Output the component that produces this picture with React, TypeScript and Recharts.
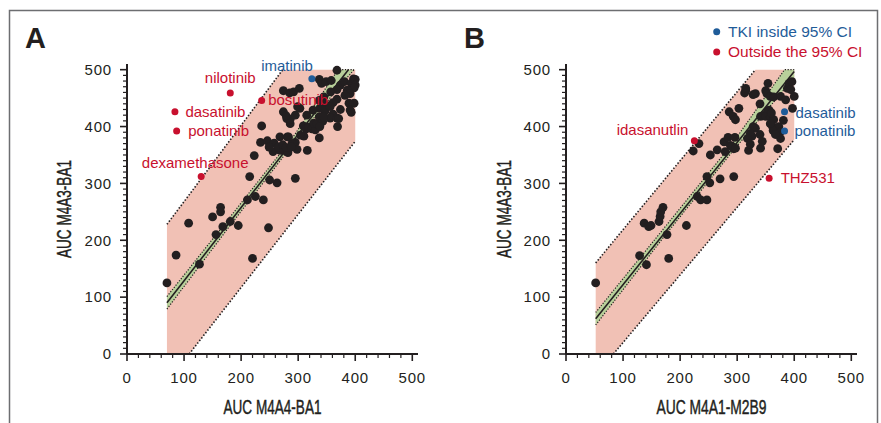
import React from "react";
import { ComposedChart, Area, Line, Scatter, XAxis, YAxis } from "recharts";

const INK = "#231f20";
const RED = "#c8102e";
const BLUE = "#1f5c99";
const PINK = "#f1c1b5";
const GREEN = "#b8d09a";
const FONT = "'Liberation Sans', Arial, Helvetica, sans-serif";
const NARROW = "'Liberation Sans Narrow', 'Liberation Sans', Arial, sans-serif";

// axis ticks: labels every 100, minor marks every 20 (x) / 10 (y)
const majorTicks = [0, 100, 200, 300, 400, 500];
const xTicks = Array.from({ length: 26 }, (_, i) => i * 20);
const yTicks = Array.from({ length: 51 }, (_, i) => i * 10);

// ---- panel A : M4A4-BA1 vs M4A3-BA1 ----
const aPoints: [number, number][] = [
  [70, 125], [86, 174], [108, 230], [127, 158], [150, 241], [156, 210], [164, 258], [164, 250],
  [168, 224], [181, 233], [195, 226], [211, 271], [215, 312], [220, 168], [225, 277], [223, 349],
  [239, 271], [248, 222], [250, 306], [263, 301], [295, 309], [316, 358],
  [234, 372], [236, 401], [246, 375], [258, 371], [256, 356], [268, 382], [281, 382], [268, 358],
  [281, 360], [295, 372], [298, 360], [249, 364], [265, 364], [274, 358], [289, 370], [282, 354],
  [273, 368], [279, 363], [288, 364],
  [274, 426], [280, 414], [286, 405], [286, 413], [279, 419], [295, 420], [303, 432], [299, 435],
  [309, 401], [314, 396], [318, 399], [324, 396], [330, 394], [310, 383], [304, 385], [283, 382],
  [327, 406], [333, 405], [337, 380], [315, 420],
  [274, 463], [285, 459], [292, 461], [302, 467],
  [337, 483], [341, 476], [349, 479], [358, 481], [368, 499], [374, 473], [381, 479], [393, 476],
  [397, 484], [400, 483], [400, 473], [398, 468], [386, 464], [391, 458], [382, 455], [368, 465],
  [357, 461], [345, 452], [337, 446], [347, 440], [338, 432], [326, 429], [347, 427], [361, 422],
  [337, 417], [343, 409], [356, 415], [368, 415], [374, 430], [371, 414], [369, 400], [338, 400],
  [393, 425], [398, 441], [389, 441], [361, 442], [368, 448], [356, 435], [391, 429], [344, 417],
];
const aNames = ["imatinib", "nilotinib", "bosutinib", "dasatinib", "ponatinib", "dexamethasone"];
const aNameX = [324, 181, 236, 84, 87, 130];
const aNameY = [484, 459, 446, 426, 392, 312];
const aInside = [true, false, false, false, false, false];
const aBandX = [70, 109, 273, 400];
const aBandLow = [0, 0, 211, 374];
const aBandHigh = [228, 280, 500, 500];
const aCiX = [70, 180, 290, 370, 398];
const aCiLow = [79, 225, 368, 468, 500];
const aCiHigh = [101, 240, 380, 500, 500];
const aFitX = [70, 388];
const aFitY = [90, 500];

// ---- panel B : M4A1-M2B9 vs M4A3-BA1 ----
const bPoints: [number, number][] = [
  [52, 125], [129, 173], [141, 157], [137, 230], [145, 224], [149, 226], [163, 233], [165, 242],
  [166, 250], [170, 258], [177, 210], [180, 168], [211, 226], [230, 277], [236, 271], [247, 271],
  [247, 312], [252, 301], [270, 308], [294, 312],
  [223, 357], [233, 370], [253, 350], [265, 359], [279, 356], [277, 373], [288, 367], [294, 361],
  [284, 381], [296, 381], [291, 365], [297, 362],
  [286, 426], [293, 418], [297, 412], [303, 432], [313, 459], [315, 463], [315, 467], [332, 458],
  [328, 456], [340, 440],
  [320, 358], [326, 383], [332, 397], [328, 400], [323, 388], [318, 379], [323, 369], [340, 386],
  [341, 362], [344, 374], [341, 418], [345, 419],
  [354, 476], [350, 463], [352, 458], [358, 453], [364, 452], [376, 453], [356, 429], [353, 426],
  [350, 418], [358, 417], [364, 412], [360, 424], [362, 400], [365, 394], [373, 400], [363, 393],
  [358, 405], [376, 391], [376, 379], [371, 361], [367, 386], [381, 411], [385, 447], [388, 467],
  [391, 476], [396, 479], [400, 453], [394, 465], [397, 432],
];
const bNames = ["idasanutlin", "THZ531", "dasatinib", "ponatinib"];
const bNameX = [225, 356, 383, 383];
const bNameY = [375, 309, 426, 392];
const bInside = [false, false, true, true];
const bBandX = [52, 83, 332, 400];
const bBandLow = [0, 0, 296, 377];
const bBandHigh = [160, 198, 500, 500];
const bCiX = [52, 170, 290, 383, 400];
const bCiLow = [51, 204, 354, 466, 485];
const bCiHigh = [73, 219, 368, 500, 500];
const bFitX = [52, 400];
const bFitY = [62, 497];

// label offsets (px) relative to their dot
const aPlacement: Record<string, [number, number, "start" | "middle" | "end"]> = {
  imatinib: [1, -8, "end"],
  nilotinib: [0, -10, "middle"],
  bosutinib: [6.5, 4.5, "start"],
  dasatinib: [10.5, 4.8, "start"],
  ponatinib: [11.5, 5, "start"],
  dexamethasone: [-6, -8.5, "middle"],
};
const bPlacement: Record<string, [number, number, "start" | "middle" | "end"]> = {
  idasanutlin: [-6, -6, "end"],
  THZ531: [11.5, 5, "start"],
  dasatinib: [11, 6, "start"],
  ponatinib: [10, 5, "start"],
};

function YTick(props: any) {
  const { x, y, payload } = props;
  const v = payload.value;
  const major = majorTicks.includes(v);
  return (
    <g>
      <line x1={x - (major ? 7 : 4)} x2={x} y1={y} y2={y} stroke={INK} strokeWidth={major ? 1.6 : 1.2} />
      {major && (
        <text x={x - 15} y={y + 5.3} textAnchor="end" fontFamily={FONT} fontSize={15} letterSpacing={0.8} fill={INK}>
          {v}
        </text>
      )}
    </g>
  );
}

function XTick(props: any) {
  const { x, y, payload } = props;
  const v = payload.value;
  const major = majorTicks.includes(v);
  return (
    <g>
      <line x1={x} x2={x} y1={y} y2={y + (major ? 7 : 4)} stroke={INK} strokeWidth={major ? 1.6 : 1.2} />
      {major && (
        <text x={x} y={y + 29} textAnchor="middle" fontFamily={FONT} fontSize={15} letterSpacing={0.8} fill={INK}>
          {v}
        </text>
      )}
    </g>
  );
}

interface PanelProps {
  points: [number, number][];
  names: string[];
  nameX: number[];
  nameY: number[];
  inside: boolean[];
  placement: Record<string, [number, number, "start" | "middle" | "end"]>;
  bandX: number[];
  bandLow: number[];
  bandHigh: number[];
  ciX: number[];
  ciLow: number[];
  ciHigh: number[];
  fitX: number[];
  fitY: number[];
}

function Panel(p: PanelProps) {
  const band = p.bandX.map((x, i) => ({ x, range: [p.bandLow[i], p.bandHigh[i]] }));
  const upperEdge = p.bandX.slice(0, 3).map((x, i) => ({ x, y: p.bandHigh[i] }));
  const lowerEdge = p.bandX.slice(1).map((x, i) => ({ x, y: p.bandLow[i + 1] }));
  const ci = p.ciX.map((x, i) => ({ x, range: [p.ciLow[i], p.ciHigh[i]] }));
  const fit = p.fitX.map((x, i) => ({ x, y: p.fitY[i] }));
  const dots = p.points.map(([x, y]) => ({ x, y }));
  const marked = p.names.map((name, i) => ({ x: p.nameX[i], y: p.nameY[i], name, inside: p.inside[i] }));

  return (
    <ComposedChart width={440} height={423} margin={{ top: 64, right: 22, bottom: 39, left: 67 }}>
      <XAxis
        dataKey="x"
        type="number"
        domain={[0, 510]}
        ticks={xTicks}
        interval={0}
        tickSize={0}
        tickMargin={0}
        tickLine={false}
        tick={<XTick />}
        axisLine={{ stroke: INK, strokeWidth: 2 }}
        height={30}
      />
      <YAxis
        type="number"
        domain={[0, 510]}
        ticks={yTicks}
        interval={0}
        tickSize={0}
        tickMargin={0}
        tickLine={false}
        tick={<YTick />}
        axisLine={{ stroke: INK, strokeWidth: 2 }}
        width={60}
      />
      <Area data={band} dataKey="range" type="linear" fill={PINK} fillOpacity={1} stroke="none" isAnimationActive={false} />
      <Area
        data={ci}
        dataKey="range"
        type="linear"
        fill={GREEN}
        fillOpacity={1}
        stroke={INK}
        strokeWidth={1.2}
        strokeDasharray="1.2 1.6"
        isAnimationActive={false}
      />
      <Line data={upperEdge} dataKey="y" type="linear" stroke={INK} strokeWidth={1.6} strokeDasharray="1.5 1.8" dot={false} isAnimationActive={false} />
      <Line data={lowerEdge} dataKey="y" type="linear" stroke={INK} strokeWidth={1.6} strokeDasharray="1.5 1.8" dot={false} isAnimationActive={false} />
      <Line data={fit} dataKey="y" type="linear" stroke={INK} strokeWidth={1.6} dot={false} isAnimationActive={false} />
      <Scatter
        data={dots}
        dataKey="y"
        isAnimationActive={false}
        shape={(s: any) => <circle cx={s.cx} cy={s.cy} r={4.4} fill={INK} />}
      />
      <Scatter
        data={marked}
        dataKey="y"
        isAnimationActive={false}
        shape={(s: any) => {
          const d = s.payload;
          const color = d.inside ? BLUE : RED;
          const [dx, dy, anchor] = p.placement[d.name];
          return (
            <g>
              <circle cx={s.cx} cy={s.cy} r={3.5} fill={color} />
              <text x={s.cx + dx} y={s.cy + dy} textAnchor={anchor} fontFamily={FONT} fontSize={15} fill={color}>
                {d.name}
              </text>
            </g>
          );
        }}
      />
    </ComposedChart>
  );
}

export default function App() {
  const titleStyle = { fontFamily: NARROW, fontSize: 20, fill: INK, stroke: INK, strokeWidth: 0.45 } as const;
  return (
    <div style={{ position: "absolute", left: 0, top: 0, width: 881, height: 423, background: "#fff", overflow: "hidden" }}>
      <div style={{ position: "absolute", left: 0, top: 0 }}>
        <Panel
          points={aPoints}
          names={aNames}
          nameX={aNameX}
          nameY={aNameY}
          inside={aInside}
          placement={aPlacement}
          bandX={aBandX}
          bandLow={aBandLow}
          bandHigh={aBandHigh}
          ciX={aCiX}
          ciLow={aCiLow}
          ciHigh={aCiHigh}
          fitX={aFitX}
          fitY={aFitY}
        />
      </div>
      <div style={{ position: "absolute", left: 439, top: 0 }}>
        <Panel
          points={bPoints}
          names={bNames}
          nameX={bNameX}
          nameY={bNameY}
          inside={bInside}
          placement={bPlacement}
          bandX={bBandX}
          bandLow={bBandLow}
          bandHigh={bBandHigh}
          ciX={bCiX}
          ciLow={bCiLow}
          ciHigh={bCiHigh}
          fitX={bFitX}
          fitY={bFitY}
        />
      </div>
      <svg width={881} height={423} style={{ position: "absolute", left: 0, top: 0, pointerEvents: "none" }}>
        <path d="M9.5 423 V10.5 H877.5 V423" fill="none" stroke="#6d6e71" strokeWidth={1.5} />
        <text x={25} y={48} fontFamily={FONT} fontWeight="bold" fontSize={29} fill={INK}>A</text>
        <text x={464} y={48} fontFamily={FONT} fontWeight="bold" fontSize={29} fill={INK}>B</text>
        <text x={272.5} y={413.5} textAnchor="middle" textLength={98} lengthAdjust="spacingAndGlyphs" {...titleStyle}>AUC M4A4-BA1</text>
        <text x={711.5} y={413.5} textAnchor="middle" textLength={110} lengthAdjust="spacingAndGlyphs" {...titleStyle}>AUC M4A1-M2B9</text>
        <text x={70.5} y={209} textAnchor="middle" transform="rotate(-90 70.5 209)" textLength={98} lengthAdjust="spacingAndGlyphs" {...titleStyle}>AUC M4A3-BA1</text>
        <text x={510.5} y={209} textAnchor="middle" transform="rotate(-90 510.5 209)" textLength={98} lengthAdjust="spacingAndGlyphs" {...titleStyle}>AUC M4A3-BA1</text>
        <circle cx={716.7} cy={31.7} r={3.5} fill={BLUE} />
        <text x={728} y={37.3} fontFamily={FONT} fontSize={15.5} fill={BLUE}>TKI inside 95% CI</text>
        <circle cx={716.7} cy={52} r={3.5} fill={RED} />
        <text x={728} y={56.7} fontFamily={FONT} fontSize={15.5} fill={RED}>Outside the 95% CI</text>
      </svg>
    </div>
  );
}
